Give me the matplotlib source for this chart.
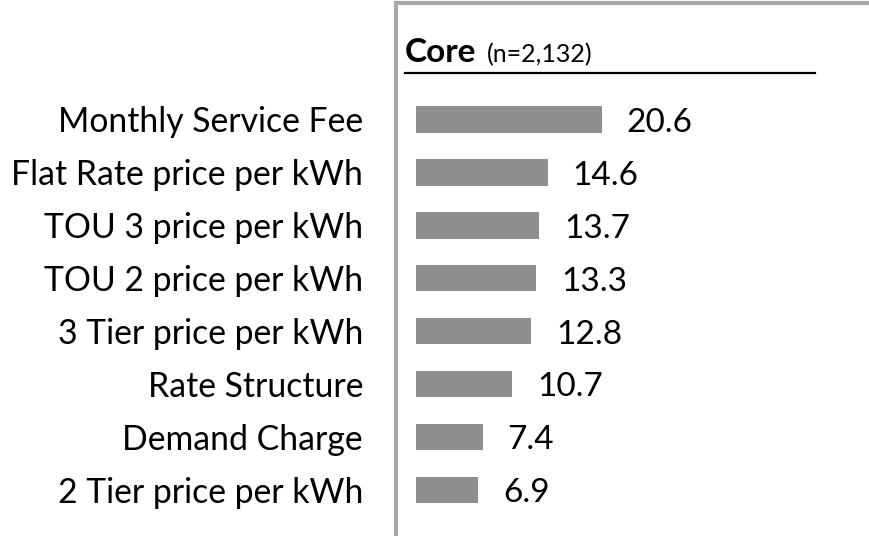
import matplotlib
matplotlib.use("Agg")
import matplotlib.pyplot as plt

categories = ["Monthly Service Fee", "Flat Rate price per kWh", "TOU 3 price per kWh",
              "TOU 2 price per kWh", "3 Tier price per kWh", "Rate Structure",
              "Demand Charge", "2 Tier price per kWh"]
values = [20.6, 14.6, 13.7, 13.3, 12.8, 10.7, 7.4, 6.9]
title_main = "Core"
title_sub = "(n=2,132)"

plt.rcParams['font.family'] = ['Lato', 'DejaVu Sans']

W, H = 869, 536
fig = plt.figure(figsize=(W / 100, H / 100), dpi=100)
ax_left, ax_top = 395.5, 3
ax = fig.add_axes([ax_left / W, 0, (W - ax_left) / W, (H - ax_top) / H])

px_per_unit = 9.01
zero_px = 416
x0 = -(zero_px - ax_left) / px_per_unit
x1 = x0 + (W - ax_left) / px_per_unit
ax.set_xlim(x0, x1)
row_px, first_px = 52.9, 119.5
y_top = (ax_top - first_px) / row_px
y_bot = (H - first_px) / row_px
ax.set_ylim(y_bot, y_top)

pos = list(range(len(categories)))
ax.barh(pos, values, height=0.5, color="#8f8f8f", edgecolor="none")

for p, v in zip(pos, values):
    ax.text(v + 25 / px_per_unit, p + 12.5 / row_px, f"{v:.1f}", va="baseline", ha="left",
            fontsize=24, color="black")

ax.set_yticks(pos)
ax.set_yticklabels(categories, fontsize=24.3)
ax.tick_params(axis="y", length=0, pad=(ax_left - 363) * 0.72)
ax.set_xticks([])

for s in ["right", "bottom"]:
    ax.spines[s].set_visible(False)
for s in ["left", "top"]:
    ax.spines[s].set_color("#a8a8a8")
    ax.spines[s].set_linewidth(3.0)

ax.text((405 - ax_left) / (W - ax_left), (H - 62) / (H - ax_top), title_main,
        transform=ax.transAxes, fontsize=24, fontweight="bold", va="baseline", ha="left")
ax.text((487 - ax_left) / (W - ax_left), (H - 62) / (H - ax_top), title_sub,
        transform=ax.transAxes, fontsize=18, va="baseline", ha="left")
ax.axhline((73 - first_px) / row_px, xmin=(405 - ax_left) / (W - ax_left),
           xmax=(815 - ax_left) / (W - ax_left), color="black", lw=1.6)

fig.savefig("out.png", dpi=100)
